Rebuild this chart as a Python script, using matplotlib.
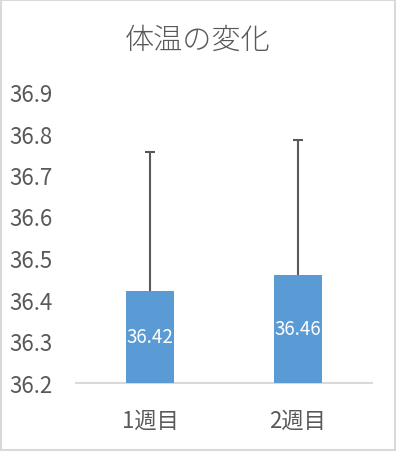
import numpy as np
import matplotlib
matplotlib.use("Agg")
import matplotlib.pyplot as plt
from matplotlib.patches import Rectangle

plt.rcParams['font.family'] = ['Noto Sans CJK JP', 'DejaVu Sans']

# data
weeks = ["1週目", "2週目"]
temps = [36.42, 36.46]
sd_plus = [0.336, 0.325]
yticks = [36.2, 36.3, 36.4, 36.5, 36.6, 36.7, 36.8, 36.9]

BAR = "#5B9BD5"
TXT = "#595959"
LINE = "#D9D9D9"

fig = plt.figure(figsize=(3.96, 4.52), dpi=100)
ax = fig.add_axes([76 / 396, 68.5 / 452, 296 / 396, 290.5 / 452])

x = np.arange(len(weeks))
ax.bar(x, [t - yticks[0] for t in temps], bottom=yticks[0], width=0.32,
       color=BAR, zorder=3)

eb = ax.errorbar(x, temps, yerr=[np.zeros(len(temps)), sd_plus], fmt="none",
                 ecolor=TXT, elinewidth=1.5, capsize=3.3, capthick=1.5, zorder=2)
eb[1][0].set_visible(False)

for xi, t in zip(x, temps):
    ax.text(xi, (yticks[0] + t) / 2, f"{t:.2f}", ha="center", va="center",
            color="white", fontsize=13.5, zorder=4)

ax.set_xlim(-0.5, 1.5)
ax.set_ylim(yticks[0], yticks[-1])
ax.set_yticks(yticks)
ax.set_yticklabels([f"{v:.1f}" for v in yticks])
ax.set_xticks(x)
ax.set_xticklabels(weeks)
ax.tick_params(axis="both", length=0, colors=TXT, labelsize=16)
ax.tick_params(axis="y", pad=17)
ax.tick_params(axis="x", pad=19)

for s in ["top", "right", "left"]:
    ax.spines[s].set_visible(False)
ax.spines["bottom"].set_color(LINE)
ax.spines["bottom"].set_linewidth(1.5)

fig.text(0.5, 1 - 41 / 452, "体温の変化", ha="center", va="center",
         color=TXT, fontsize=21, fontweight="light")

fig.patches.append(Rectangle((0.003, 0.003), 0.994, 0.994, transform=fig.transFigure,
                             fill=False, edgecolor=LINE, linewidth=1.5))

fig.savefig("out.png", dpi=100)
